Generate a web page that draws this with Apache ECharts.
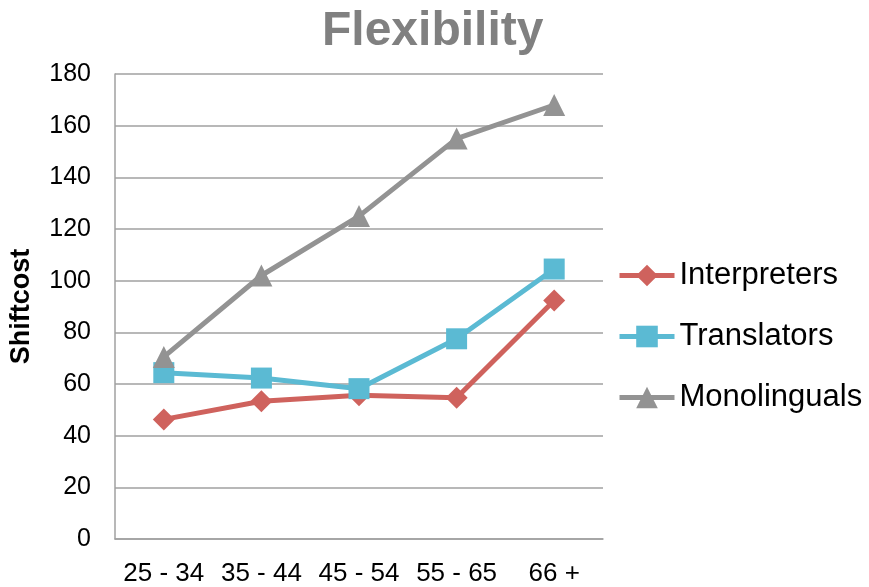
<!DOCTYPE html>
<html>
<head>
<meta charset="utf-8">
<script src="https://cdn.jsdelivr.net/npm/echarts@6/dist/echarts.min.js"></script>
<style>
  html, body { margin: 0; padding: 0; background: #fff; }
  #chart { width: 869px; height: 587px; }
</style>
</head>
<body>
<div id="chart"></div>
<script>
// Age groups on the category axis
const ageGroups = ['25 - 34', '35 - 44', '45 - 54', '55 - 65', '66 +'];

// Shift cost per group
const interpreters = [46.3, 53.3, 55.6, 54.7, 92.3];
const translators = [64.4, 62.3, 58.2, 77.5, 104.5];
const monolinguals = [70.5, 102, 125, 155, 168];

const FONT = '"Liberation Sans", Arial, sans-serif';

const chart = echarts.init(document.getElementById('chart'));

function lineSeries(name, data, color, symbol, size) {
  return {
    name: name,
    type: 'line',
    data: data,
    symbol: symbol,
    symbolSize: size,
    showAllSymbol: true,
    lineStyle: { color: color, width: 5 },
    itemStyle: { color: color },
    emphasis: { disabled: true },
    animation: false,
    z: 3
  };
}

chart.setOption({
  animation: false,
  backgroundColor: '#ffffff',
  title: {
    text: 'Flexibility',
    left: 322,
    top: 8,
    padding: 0,
    textStyle: { fontFamily: FONT, fontSize: 48, fontWeight: 'bold', color: '#808080' }
  },
  legend: {
    orient: 'vertical',
    left: 617,
    top: 260,
    padding: 0,
    itemWidth: 55,
    itemHeight: 27,
    itemGap: 30,
    lineStyle: { width: 5 },
    textStyle: { fontFamily: FONT, fontSize: 31, color: '#000', lineHeight: 27 },
    data: ['Interpreters', 'Translators', 'Monolinguals']
  },
  grid: { left: 114, right: 266, top: 74, bottom: 46, containLabel: false },
  xAxis: {
    type: 'category',
    data: ageGroups,
    boundaryGap: true,
    axisLine: { lineStyle: { color: '#a0a0a0', width: 1.5 } },
    axisTick: { show: false },
    axisLabel: { fontFamily: FONT, fontSize: 26, color: '#000', margin: 22, interval: 0 }
  },
  yAxis: {
    type: 'value',
    min: 0,
    max: 180,
    interval: 20,
    name: 'Shiftcost',
    nameLocation: 'middle',
    nameRotate: 90,
    nameGap: 80,
    nameTextStyle: { fontFamily: FONT, fontSize: 27, fontWeight: 'bold', color: '#000' },
    axisLine: { show: true, lineStyle: { color: '#a0a0a0', width: 1.5 } },
    axisTick: { show: false },
    splitLine: { lineStyle: { color: '#a0a0a0', width: 1.5 } },
    axisLabel: { fontFamily: FONT, fontSize: 25, color: '#000', margin: 24 }
  },
  series: [
    lineSeries('Interpreters', interpreters, '#cf625d', 'diamond', 22),
    lineSeries('Translators', translators, '#5bbad3', 'rect', 21),
    lineSeries('Monolinguals', monolinguals, '#939393', 'triangle', 22)
  ]
});
</script>
</body>
</html>
